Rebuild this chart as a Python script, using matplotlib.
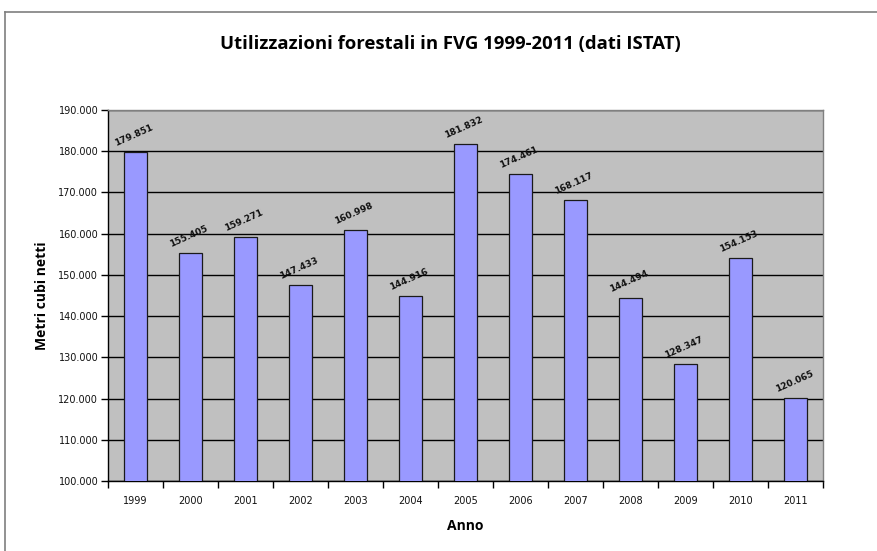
import matplotlib
matplotlib.use("Agg")
import matplotlib.pyplot as plt
from matplotlib.lines import Line2D

years = ["1999", "2000", "2001", "2002", "2003", "2004", "2005",
         "2006", "2007", "2008", "2009", "2010", "2011"]
values = [179851, 155405, 159271, 147433, 160998, 144916, 181832,
          174461, 168117, 144494, 128347, 154153, 120065]
yticks = [100000, 110000, 120000, 130000, 140000, 150000, 160000,
          170000, 180000, 190000]

def fmt(v):
    return f"{v:,}".replace(",", ".")

fig = plt.figure(figsize=(8.77, 5.51), dpi=100)
fig.patch.set_facecolor("white")
W, H = 877, 551
ax = fig.add_axes([108 / W, 1 - 481 / H, (823 - 108) / W, (481 - 110) / H])
ax.set_facecolor("#C0C0C0")

x = list(range(len(years)))
ax.bar(x, values, width=0.42, color="#9999FF", edgecolor="#1a1a1a",
       linewidth=0.9, zorder=3)
for xi, v in zip(x, values):
    ax.annotate(fmt(v), (xi, v), xytext=(-1, 3), textcoords="offset points",
                ha="center", va="bottom", rotation=24, fontsize=6.5,
                fontweight="bold", color="#111111", zorder=4)

ax.set_xlim(-0.5, len(years) - 0.5)
ax.set_ylim(100000, 190000)
ax.set_yticks(yticks)
ax.set_yticklabels([fmt(t) for t in yticks], fontsize=7, color="#111111")
ax.yaxis.grid(True, color="black", linewidth=1.0, zorder=1)
ax.set_axisbelow(True)

ax.set_xticks(x)
ax.set_xticklabels(years, fontsize=7, color="#111111")
ax.tick_params(axis="x", length=0, pad=11)
ax.tick_params(axis="y", length=5, width=1, direction="out", pad=2)
ax.set_xticks([i - 0.5 for i in range(len(years) + 1)], minor=True)
ax.tick_params(axis="x", which="minor", length=5, width=1, direction="out")

for s in ["left", "bottom"]:
    ax.spines[s].set_color("black")
    ax.spines[s].set_linewidth(1.0)
for s in ["top", "right"]:
    ax.spines[s].set_color("#808080")
    ax.spines[s].set_linewidth(1.0)

ax.set_ylabel("Metri cubi netti", fontsize=10, fontweight="bold",
              family="Open Sans", labelpad=7)
ax.set_xlabel("Anno", fontsize=10, fontweight="bold", family="Open Sans",
              labelpad=9)

fig.text(0.5 + 12 / W, 1 - 44 / H, "Utilizzazioni forestali in FVG 1999-2011 (dati ISTAT)",
         ha="center", va="center", fontsize=13.3, fontweight="bold",
         family="Open Sans")

fig.add_artist(Line2D([5 / W, 1], [1 - 12 / H, 1 - 12 / H], color="#7f7f7f",
                      linewidth=1.2, transform=fig.transFigure))
fig.add_artist(Line2D([5 / W, 5 / W], [1 - 12 / H, 0], color="#7f7f7f",
                      linewidth=1.2, transform=fig.transFigure))

fig.savefig("out.png", dpi=100, facecolor="white")
